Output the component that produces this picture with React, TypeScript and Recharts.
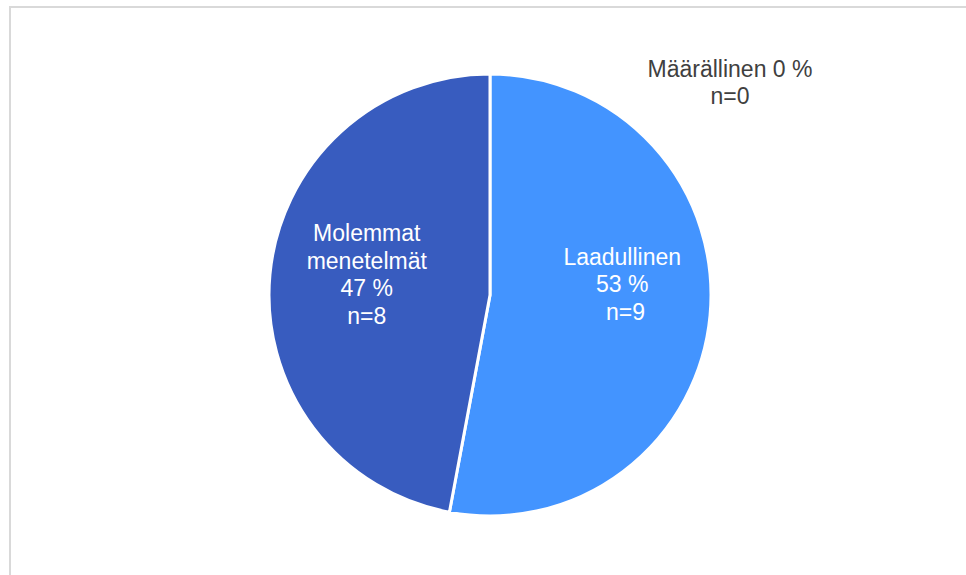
import React from "react"
import { PieChart, Pie, Cell } from "recharts"

const CATEGORIES = ["Laadullinen", "Molemmat menetelmät", "Määrällinen"]
const COUNTS = [9, 8, 0]
const COLORS = ["#4394FF", "#385CBF", "#A5A5A5"]

const TOTAL = COUNTS.reduce((a, b) => a + b, 0)
const data = CATEGORIES.map((name, i) => ({ name, value: COUNTS[i] }))

const FONT = "'Liberation Sans', Arial, sans-serif"
const LINE = 27.4
const RAD = Math.PI / 180

// label tweaks relative to the sector's anchor
const LABEL_SHIFT = [
  { dx: 9, dy: -22 },
  { dx: 0, dy: -9 },
  { dx: 240, dy: 8.5 },
]

function labelLines(index: number) {
  const name = CATEGORIES[index]
  const n = COUNTS[index]
  const pct = Math.round((n / TOTAL) * 100) + " %"
  if (index === 0) return [name, pct, " n=" + n]
  if (index === 1) return [...name.split(" "), pct, "n=" + n]
  return [name + " " + pct, "n=" + n]
}

function renderLabel(props: any) {
  const { cx, cy, midAngle, outerRadius, index } = props
  const r = index === 2 ? outerRadius : outerRadius * 0.56
  const x = cx + r * Math.cos(-midAngle * RAD) + LABEL_SHIFT[index].dx
  const yc = cy + r * Math.sin(-midAngle * RAD) + LABEL_SHIFT[index].dy
  const lines = labelLines(index)
  const firstBase = yc - ((lines.length - 1) * LINE) / 2 + 8
  return (
    <text
      key={"lbl-" + index}
      x={x}
      y={firstBase}
      textAnchor="middle"
      fill={index === 2 ? "#404040" : "#ffffff"}
      fontSize={23}
      fontFamily={FONT}
      style={{ whiteSpace: "pre" }}
    >
      {lines.map((t, i) => (
        <tspan key={i} x={x} dy={i === 0 ? 0 : LINE}>
          {t}
        </tspan>
      ))}
    </text>
  )
}

export default function App() {
  return (
    <div style={{ position: "fixed", left: 0, top: 0, width: 966, height: 575, overflow: "hidden", background: "#fff" }}>
      <div
        style={{
          position: "absolute",
          left: 9,
          top: 6,
          width: 1000,
          height: 1000,
          border: "2px solid #d9d9d9",
        }}
      />
      <div style={{ position: "absolute", left: 0, top: 0 }}>
        <PieChart width={966} height={575} margin={{ top: 0, right: 0, bottom: 0, left: 0 }}>
          <Pie
            data={data}
            cx={490}
            cy={295}
            innerRadius={0}
            outerRadius={221}
            startAngle={90}
            endAngle={-270}
            dataKey="value"
            stroke="#ffffff"
            strokeWidth={3}
            label={renderLabel}
            labelLine={false}
            isAnimationActive={false}
          >
            {data.map((entry, index) => (
              <Cell key={`cell-${index}`} fill={COLORS[index % COLORS.length]} />
            ))}
          </Pie>
        </PieChart>
      </div>
    </div>
  )
}
